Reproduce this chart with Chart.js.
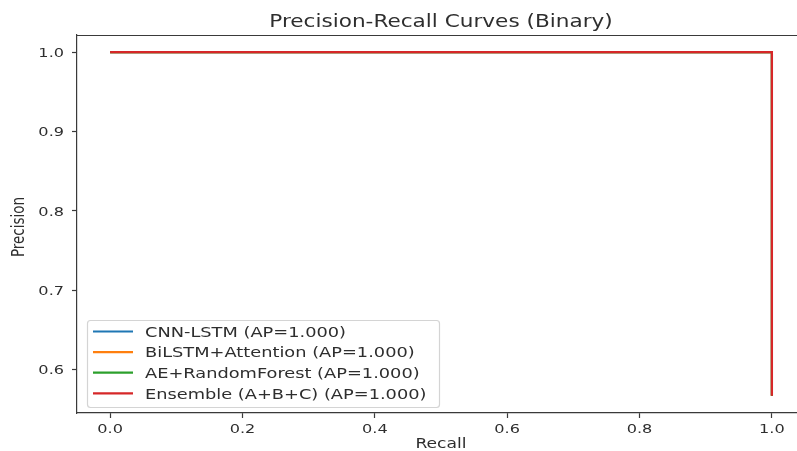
<!DOCTYPE html>
<html>
<head>
<meta charset="utf-8">
<script src="https://cdn.jsdelivr.net/npm/chart.js@4.4.1/dist/chart.umd.min.js"></script>
<style>
  html, body { margin: 0; padding: 0; background: #fff; overflow: hidden; }
  canvas { display: block; }
</style>
</head>
<body>
<canvas id="c" width="797" height="451"></canvas>
<script>
// ---- data ----
const seriesNames = [
  "CNN-LSTM (AP=1.000)",
  "BiLSTM+Attention (AP=1.000)",
  "AE+RandomForest (AP=1.000)",
  "Ensemble (A+B+C) (AP=1.000)"
];
const seriesColors = ["#1f77b4", "#ff7f0e", "#2ca02c", "#d62728"];
const recallCNN = [0.0, 1.0, 1.0];
const precisionCNN = [1.0, 1.0, 0.567];
const recallBiLSTM = [0.0, 1.0, 1.0];
const precisionBiLSTM = [1.0, 1.0, 0.567];
const recallAE = [0.0, 1.0, 1.0];
const precisionAE = [1.0, 1.0, 0.567];
const recallEns = [0.0, 1.0, 1.0];
const precisionEns = [1.0, 1.0, 0.567];
const xTicks = [0.0, 0.2, 0.4, 0.6, 0.8, 1.0];
const yTicks = [0.6, 0.7, 0.8, 0.9, 1.0];
const titleText = "Precision-Recall Curves (Binary)";
const xLabel = "Recall";
const yLabel = "Precision";

const allRecall = [recallCNN, recallBiLSTM, recallAE, recallEns];
const allPrecision = [precisionCNN, precisionBiLSTM, precisionAE, precisionEns];

const FONT = "'DejaVu Sans', sans-serif";
const TXT = "#2e2e2e";
const AXC = "#3a3a3a";
const STRETCH = 1.27;

function pts(xs, ys) { return xs.map((x, i) => ({ x: x, y: ys[i] })); }

const datasets = seriesNames.map((name, i) => ({
  label: name,
  data: pts(allRecall[i], allPrecision[i]),
  borderColor: seriesColors[i],
  backgroundColor: seriesColors[i],
  borderWidth: 2.2,
  showLine: true,
  pointRadius: 0,
  pointHoverRadius: 0,
  fill: false,
  tension: 0,
  order: seriesNames.length - i
}));

// matplotlib-like 5% margins; the plot's right part (beyond the 797px frame) is cropped
const xAll = allRecall.flat(), yAll = allPrecision.flat();
const xmin0 = Math.min(...xAll), xmax0 = Math.max(...xAll);
const ymin0 = Math.min(...yAll), ymax0 = Math.max(...yAll);
const xm = (xmax0 - xmin0) * 0.05, ym = (ymax0 - ymin0) * 0.05;
const xCropFrac = 720 / 728; // visible fraction of the x range in the reference crop

function sText(ctx, txt, x, y, align) {
  ctx.save();
  ctx.translate(x, y);
  ctx.scale(STRETCH, 1);
  ctx.textAlign = align;
  ctx.fillText(txt, 0, 0);
  ctx.restore();
}

const decorPlugin = {
  id: 'decor',
  afterDraw(chart) {
    const ctx = chart.ctx, a = chart.chartArea;
    const xs = chart.scales.x, ys = chart.scales.y;
    const fullRight = a.left + (a.right - a.left) / xCropFrac;
    ctx.save();
    // top spine
    ctx.strokeStyle = AXC;
    ctx.lineWidth = 1.2;
    ctx.beginPath();
    ctx.moveTo(a.left, a.top + 0.5);
    ctx.lineTo(a.right, a.top + 0.5);
    ctx.stroke();
    ctx.fillStyle = TXT;
    ctx.textBaseline = "alphabetic";
    // tick labels
    ctx.font = "12.7px " + FONT;
    xTicks.forEach(v => sText(ctx, v.toFixed(1), xs.getPixelForValue(v), 433, "center"));
    yTicks.forEach(v => sText(ctx, v.toFixed(1), 64, ys.getPixelForValue(v) + 4.6, "right"));
    // title
    ctx.font = "17px " + FONT;
    sText(ctx, titleText, (a.left + fullRight) / 2, 27, "center");
    // axis labels
    ctx.font = "13.5px " + FONT;
    sText(ctx, xLabel, (a.left + fullRight) / 2, 448, "center");
    ctx.save();
    ctx.translate(24, (a.top + a.bottom) / 2 + 3);
    ctx.scale(STRETCH, 1);
    ctx.rotate(-Math.PI / 2);
    ctx.textAlign = "center";
    ctx.fillText(yLabel, 0, 0);
    ctx.restore();
    // legend
    const lx = 87, ly = 320, lw = 352, lh = 87;
    ctx.fillStyle = "rgba(255,255,255,0.8)";
    ctx.strokeStyle = "#d4d4d4";
    ctx.lineWidth = 1.2;
    ctx.beginPath();
    ctx.roundRect(lx + 0.5, ly + 0.5, lw, lh, 3);
    ctx.fill();
    ctx.stroke();
    ctx.font = "14px " + FONT;
    chart.data.datasets.forEach((ds, i) => {
      const y = 331.5 + i * 20.6;
      ctx.strokeStyle = ds.borderColor;
      ctx.lineWidth = 2.2;
      ctx.beginPath();
      ctx.moveTo(93, y);
      ctx.lineTo(133, y);
      ctx.stroke();
      ctx.fillStyle = TXT;
      sText(ctx, ds.label, 145, y + 5.2, "left");
    });
    ctx.restore();
  }
};

const xLo = xmin0 - xm;
const xHi = xLo + (xmax0 + xm - xLo) * xCropFrac;

new Chart(document.getElementById('c'), {
  type: 'scatter',
  data: { datasets: datasets },
  options: {
    responsive: false,
    animation: false,
    events: [],
    layout: { padding: { left: 0, top: 35, right: 0, bottom: 0 } },
    plugins: { legend: { display: false }, title: { display: false }, tooltip: { enabled: false } },
    scales: {
      x: {
        type: 'linear',
        min: xLo,
        max: xHi,
        afterBuildTicks: (s) => { s.ticks = xTicks.map(v => ({ value: v })); },
        afterFit: (s) => { s.height = 38; },
        ticks: { display: false },
        grid: { drawOnChartArea: false, drawTicks: true, tickLength: 5, color: AXC, tickWidth: 1.2 },
        border: { display: true, color: AXC, width: 1.2 }
      },
      y: {
        type: 'linear',
        min: ymin0 - ym,
        max: ymax0 + ym,
        afterBuildTicks: (s) => { s.ticks = yTicks.map(v => ({ value: v })); },
        afterFit: (s) => { s.width = 77; },
        ticks: { display: false },
        grid: { drawOnChartArea: false, drawTicks: true, tickLength: 5, color: AXC, tickWidth: 1.2 },
        border: { display: true, color: AXC, width: 1.2 }
      }
    }
  },
  plugins: [decorPlugin]
});
</script>
</body>
</html>
